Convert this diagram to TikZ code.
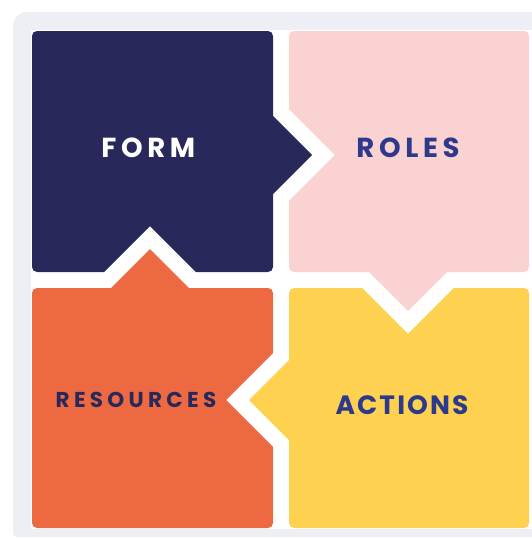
\documentclass[tikz,border=0pt]{standalone}
\usepackage{fontspec}
\newfontfamily\tilefont{Poppins}[LetterSpace=17]
\definecolor{bggray}{HTML}{EEEFF4}
\definecolor{navytile}{HTML}{28295A}
\definecolor{pinktile}{HTML}{F9D2D1}
\definecolor{orangetile}{HTML}{EC6941}
\definecolor{yellowtile}{HTML}{FED250}
\definecolor{textblue}{HTML}{2D3A8C}
\begin{document}
\begin{tikzpicture}[x=1pt,y=-1pt]
    \tikzstyle{every node}+=[inner sep=0pt]
    \tikzstyle{lbl}=[font=\tilefont\bfseries\fontsize{27.5}{27.5}\selectfont]
    \useasboundingbox (0,0) rectangle (532,538);
    % panel
    \fill [bggray, rounded corners=14pt] (13,12) rectangle (560,300);
    \fill [bggray, rounded corners=4pt] (13,100) rectangle (560,537);
    \fill [white] (31,30) rectangle (560,529);
    % tiles
    \fill [navytile, rounded corners=5pt] (32,31) rectangle (273,272);
    \fill [pinktile, rounded corners=5pt] (289,31) rectangle (529,272);
    \fill [orangetile, rounded corners=5pt] (32,288) rectangle (273,528);
    \fill [yellowtile, rounded corners=5pt] (289,288) rectangle (529,528);
    % notches
    \fill [white] (287,107.4) -- (334.6,155) -- (287,202.6);
    \fill [white] (360.4,286) -- (408,333.6) -- (455.6,286);
    \fill [white] (275,351.4) -- (226.4,400) -- (275,448.6);
    \fill [white] (102.4,274) -- (150,226.4) -- (197.6,274);
    % arrows
    \fill [navytile] (272,115) -- (312,155) -- (272,195);
    \fill [pinktile] (368,271) -- (408,311) -- (448,271);
    \fill [yellowtile] (290,359) -- (249,400) -- (290,441);
    \fill [orangetile] (110,289) -- (150,249) -- (190,289);
    % labels
    \node [lbl, text=white] (form) at (148.3,148) {FORM};
    \node [lbl, text=textblue] (roles) at (408,148) {ROLES};
    \node [lbl, text=textblue, font=\tilefont\bfseries\fontsize{26.5}{26.5}\selectfont\addfontfeature{LetterSpace=8}] (actions) at (402,405) {ACTIONS};
    \node [lbl, text=navytile, font=\tilefont\bfseries\fontsize{21.5}{21.5}\selectfont\addfontfeature{LetterSpace=20}] (resources) at (136,400) {RESOURCES};
\end{tikzpicture}
\end{document}
